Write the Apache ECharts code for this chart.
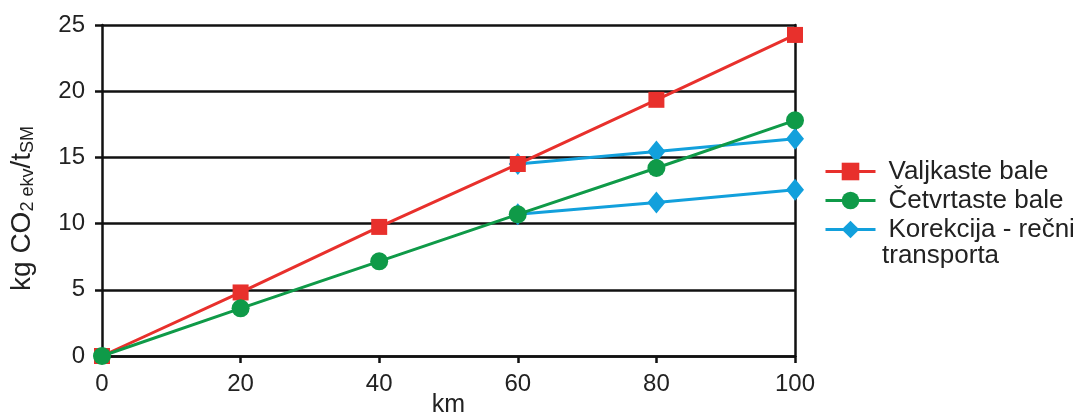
<!DOCTYPE html>
<html><head><meta charset="utf-8">
<script src="https://cdn.jsdelivr.net/npm/echarts@6/dist/echarts.min.js"></script>
<style>html,body{margin:0;padding:0;background:#fff}#c{width:1073px;height:417px}</style>
</head><body><div id="c"></div>
<script>
const xValues = [0, 20, 40, 60, 80, 100];
const valjkaste = [0, 4.8, 9.75, 14.5, 19.35, 24.25];
const cetvrtaste = [0, 3.6, 7.15, 10.7, 14.2, 17.8];
const korekcijaGornja = [null, null, null, 14.5, 15.45, 16.4];
const korekcijaDonja = [null, null, null, 10.7, 11.6, 12.55];
const yTicks = [0, 5, 10, 15, 20, 25];
const names = ['Valjkaste bale', 'Četvrtaste bale', 'Korekcija - rečni'];
const legendExtraLine = 'transporta';

const pairs = arr => xValues.map((x, i) => arr[i] == null ? null : [x, arr[i]]).filter(p => p);
const font = "'Liberation Sans', Arial, sans-serif";
const RED = '#e8302c', GREEN = '#0f9a48', BLUE = '#12a0dc';
const TXT = '#222';

const chart = echarts.init(document.getElementById('c'));
chart.setOption({
  animation: false,
  grid: { left: 102, right: 278, top: 25, bottom: 61, containLabel: false, outerBoundsMode: 'none' },
  textStyle: { fontFamily: font },
  xAxis: {
    type: 'value', min: 0, max: 100, interval: 20,
    name: 'km', nameLocation: 'middle', nameGap: 37, nameMoveOverlap: false,
    nameTextStyle: { fontSize: 25, color: TXT, fontFamily: font },
    axisLine: { lineStyle: { color: '#111', width: 2.5 } },
    axisTick: { show: true, inside: false, length: 7, lineStyle: { color: '#111', width: 2.5 } },
    axisLabel: { fontSize: 24, color: TXT, margin: 16, fontFamily: font },
    splitLine: { show: false }
  },
  yAxis: [{
    type: 'value', min: 0, max: 25, interval: 5,
    name: '{a|kg CO}{s|2 ekv}{a|/t}{s|SM}', nameLocation: 'middle', nameGap: 65, nameRotate: 90,
    nameTextStyle: {
      color: TXT, fontFamily: font, padding: [0, 36, 0, 0],
      rich: {
        a: { fontSize: 28, color: TXT, fontFamily: font, lineHeight: 30, verticalAlign: 'middle' },
        s: { fontSize: 18, color: TXT, fontFamily: font, lineHeight: 18, verticalAlign: 'bottom' }
      }
    },
    axisLine: { show: true, lineStyle: { color: '#111', width: 2.5 } },
    axisTick: { show: true, inside: false, length: 7, lineStyle: { color: '#111', width: 2.5 } },
    axisLabel: { fontSize: 24, color: TXT, margin: 17, fontFamily: font,
      formatter: v => yTicks.includes(v) ? String(v) : '' },
    splitLine: { show: true, lineStyle: { color: '#111', width: 2.5 } }
  }, {
    type: 'value', min: 0, max: 25, interval: 5, position: 'right',
    axisLine: { show: true, lineStyle: { color: '#111', width: 2.5 } },
    axisTick: { show: false }, axisLabel: { show: false }, splitLine: { show: false }
  }],
  legend: {
    left: 819, top: 152, orient: 'vertical', itemGap: 0,
    itemWidth: 50, itemHeight: 22,
    data: names,
    lineStyle: { width: 3 },
    textStyle: { fontSize: 26, color: TXT, fontFamily: font, lineHeight: 29, padding: [0, 0, 0, 8] }
  },
  graphic: [{
    type: 'text', left: 882, top: 243,
    style: { text: legendExtraLine, fontSize: 26, fontFamily: font, fill: TXT }
  }],
  series: [
    { name: names[0], type: 'line', data: pairs(valjkaste), symbol: 'rect', symbolSize: 16,
      lineStyle: { color: RED, width: 3 }, itemStyle: { color: RED }, z: 3 },
    { name: names[1], type: 'line', data: pairs(cetvrtaste), symbol: 'circle', symbolSize: 18,
      lineStyle: { color: GREEN, width: 3 }, itemStyle: { color: GREEN }, z: 4 },
    { name: names[2], type: 'line', data: pairs(korekcijaGornja), symbol: 'diamond', symbolSize: [18, 22],
      lineStyle: { color: BLUE, width: 3 }, itemStyle: { color: BLUE }, z: 2 },
    { name: names[2], type: 'line', data: pairs(korekcijaDonja), symbol: 'diamond', symbolSize: [18, 22],
      lineStyle: { color: BLUE, width: 3 }, itemStyle: { color: BLUE }, z: 2 }
  ]
});
</script></body></html>
